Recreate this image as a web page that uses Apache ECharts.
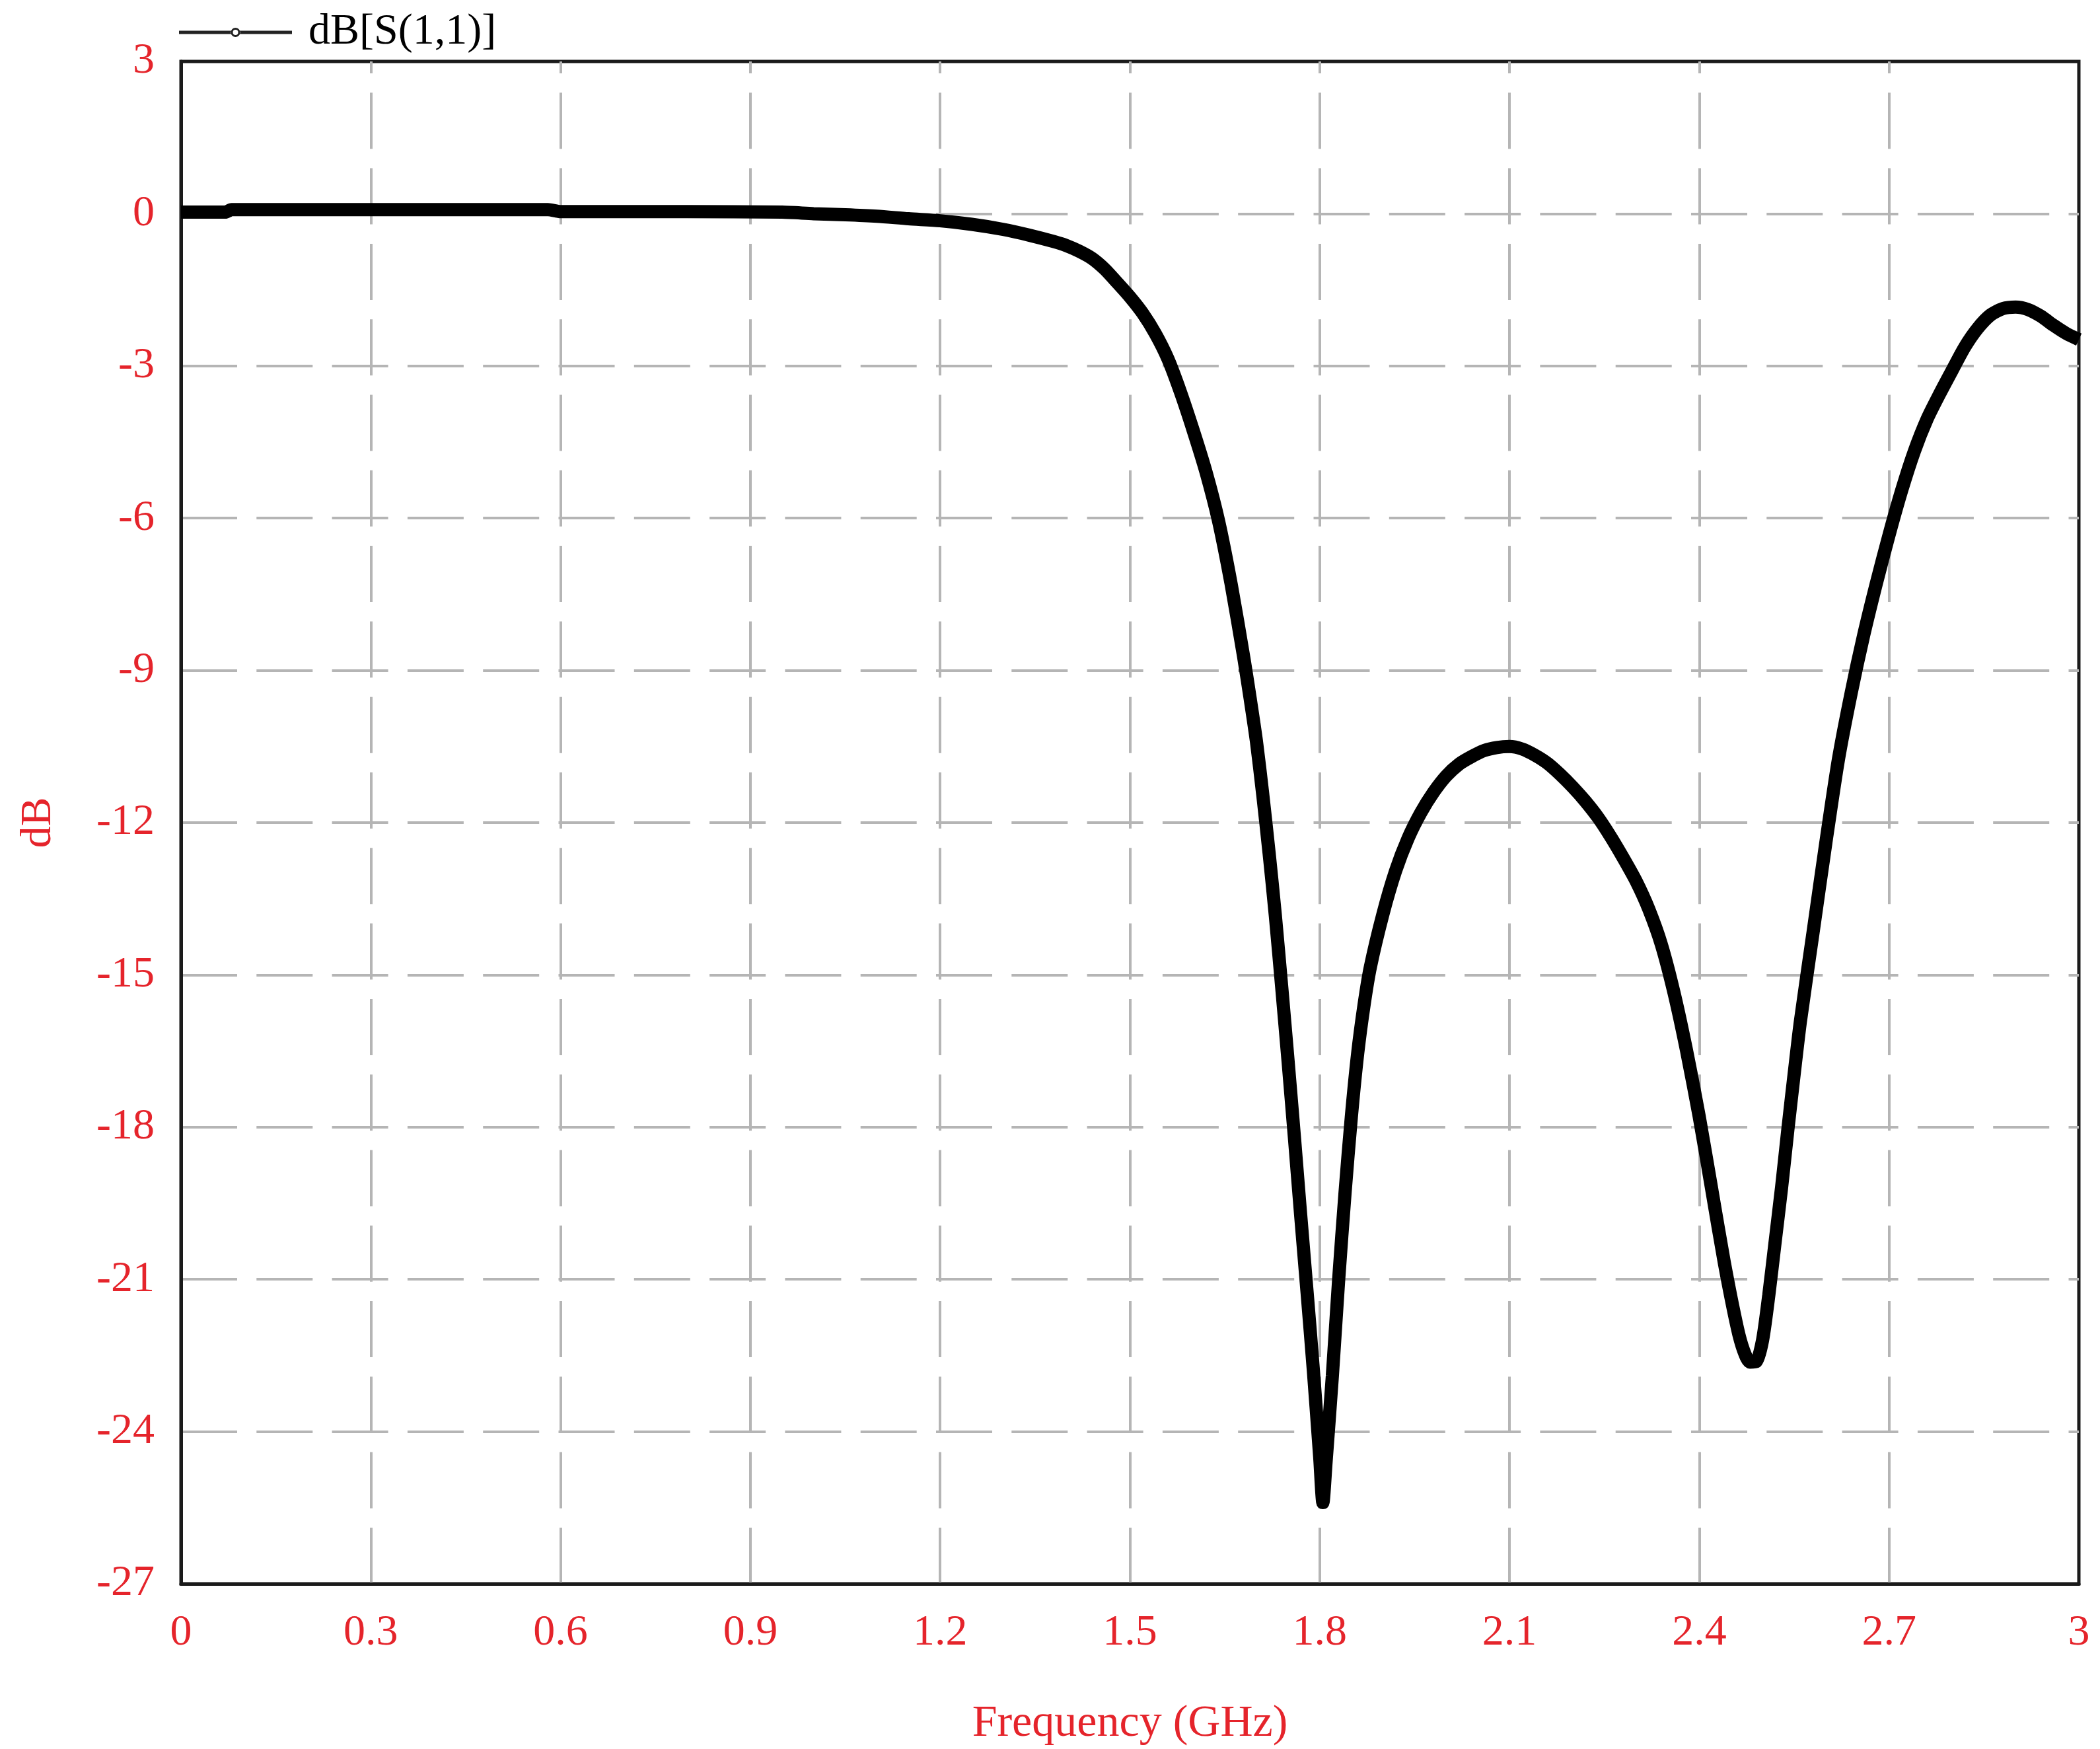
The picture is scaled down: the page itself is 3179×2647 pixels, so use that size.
<!DOCTYPE html>
<html>
<head>
<meta charset="utf-8">
<script src="https://cdn.jsdelivr.net/npm/echarts@6/dist/echarts.min.js"></script>
<style>
  html, body { margin: 0; padding: 0; background: #fff; }
  #chart { width: 3179px; height: 2647px; }
</style>
</head>
<body>
<div id="chart"></div>
<script>
// frequency in GHz
const freq = [
  0.00, 0.05, 0.07, 0.08, 0.20, 0.40, 0.58, 0.60, 0.80, 0.95,
  1.00, 1.05, 1.10, 1.15, 1.20, 1.25, 1.30, 1.34, 1.38, 1.40,
  1.42, 1.44, 1.46, 1.48, 1.50, 1.52, 1.54, 1.56, 1.58, 1.60,
  1.62, 1.64, 1.66, 1.68, 1.69, 1.70, 1.71, 1.72, 1.73, 1.74,
  1.75, 1.76, 1.77, 1.78, 1.79, 1.80, 1.805, 1.81, 1.82, 1.83,
  1.84, 1.85, 1.86, 1.87, 1.88, 1.90, 1.92, 1.94, 1.96, 1.98,
  2.00, 2.02, 2.04, 2.06, 2.08, 2.10, 2.12, 2.14, 2.16, 2.18,
  2.20, 2.22, 2.24, 2.26, 2.28, 2.30, 2.32, 2.34, 2.36, 2.38,
  2.40, 2.42, 2.44, 2.46, 2.47, 2.48, 2.49, 2.50, 2.51, 2.52,
  2.53, 2.54, 2.55, 2.56, 2.58, 2.60, 2.62, 2.64, 2.66, 2.68,
  2.70, 2.72, 2.74, 2.76, 2.78, 2.80, 2.82, 2.84, 2.86, 2.88,
  2.90, 2.92, 2.94, 2.96, 2.98, 3.00
];

// dB[S(1,1)]
const s11 = [
  0.03, 0.03, 0.03, 0.08, 0.08, 0.08, 0.08, 0.04, 0.04, 0.03,
  0.00, -0.02, -0.05, -0.10, -0.14, -0.21, -0.31, -0.42, -0.55, -0.63,
  -0.74, -0.88, -1.09, -1.36, -1.64, -1.96, -2.36, -2.86, -3.52, -4.27,
  -5.08, -6.05, -7.30, -8.75, -9.55, -10.4, -11.45, -12.6, -13.85, -15.25,
  -16.7, -18.2, -19.75, -21.25, -22.8, -24.5, -25.4, -24.6, -22.9, -21.0,
  -19.3, -17.8, -16.55, -15.6, -14.85, -13.8, -12.95, -12.3, -11.8, -11.4,
  -11.08, -10.85, -10.7, -10.58, -10.52, -10.5, -10.55, -10.67, -10.83, -11.05,
  -11.3, -11.58, -11.9, -12.28, -12.7, -13.15, -13.7, -14.4, -15.35, -16.5,
  -17.8, -19.25, -20.7, -21.95, -22.4, -22.63, -22.62, -22.2, -21.3, -20.25,
  -19.2, -18.05, -16.95, -15.9, -14.15, -12.4, -10.75, -9.45, -8.3, -7.28,
  -6.33, -5.45, -4.68, -4.05, -3.55, -3.08, -2.62, -2.26, -2.0, -1.87,
  -1.84, -1.89, -2.02, -2.2, -2.36, -2.48
];

const seriesName = 'dB[S(1,1)]';
const xTitle = 'Frequency (GHz)';
const yTitle = 'dB';

const red = '#e5242b';
const serif = '"Liberation Serif", "Times New Roman", serif';

const myChart = echarts.init(document.getElementById('chart'), null, { renderer: 'canvas' });

const gridDash = { color: '#b5b5b5', width: 4, type: [85, 29.3] };

// legend glyph: line broken by a small open circle
const legendIcon = 'path://M0,4.5 L79,4.5 L79,9.5 L0,9.5 Z M92,4.5 L171,4.5 L171,9.5 L92,9.5 Z ' +
  'M92.5,7 A7,7 0 1 0 78.5,7 A7,7 0 1 0 92.5,7 Z M89.5,7 A4,4 0 1 1 81.5,7 A4,4 0 1 1 89.5,7 Z';

const option = {
  backgroundColor: '#fff',
  animation: false,
  legend: {
    data: [{ name: seriesName, icon: legendIcon }],
    left: 271,
    top: 16,
    padding: 0,
    itemWidth: 171,
    itemHeight: 14,
    itemStyle: { color: '#222', borderWidth: 0 },
    textStyle: {
      fontFamily: serif,
      fontSize: 66,
      color: '#000',
      padding: [0, 0, 0, 20]
    }
  },
  grid: {
    left: 274,
    right: 32,
    top: 93,
    bottom: 250,
    show: true,
    borderColor: '#1a1a1a',
    borderWidth: 5,
    backgroundColor: 'transparent',
    outerBoundsMode: 'none'
  },
  xAxis: {
    type: 'value',
    min: 0,
    max: 3,
    interval: 0.3,
    name: xTitle,
    nameLocation: 'middle',
    nameGap: 178,
    nameTextStyle: { fontFamily: serif, fontSize: 68, color: red },
    axisLine: { show: true, onZero: false, lineStyle: { color: '#1a1a1a', width: 5 } },
    axisTick: { show: false },
    axisLabel: { fontFamily: serif, fontSize: 66, color: red, margin: 42 },
    splitLine: {
      show: true,
      showMinLine: false,
      showMaxLine: false,
      lineStyle: Object.assign({ dashOffset: 67 }, gridDash)
    }
  },
  yAxis: {
    type: 'value',
    min: -27,
    max: 3,
    interval: 3,
    name: yTitle,
    nameLocation: 'middle',
    nameGap: 182,
    nameTextStyle: { fontFamily: serif, fontSize: 66, color: red },
    axisLine: { show: true, onZero: false, lineStyle: { color: '#1a1a1a', width: 5 } },
    axisTick: { show: false },
    axisLabel: { fontFamily: serif, fontSize: 66, color: red, margin: 40 },
    splitLine: {
      show: true,
      showMinLine: false,
      showMaxLine: false,
      lineStyle: gridDash
    }
  },
  series: [
    {
      name: seriesName,
      type: 'line',
      data: freq.map((f, i) => [f, s11[i]]),
      smooth: 0.25,
      showSymbol: false,
      lineStyle: { color: '#000', width: 20 },
      itemStyle: { color: '#000' },
      emphasis: { disabled: true }
    }
  ]
};

myChart.setOption(option);

window.addEventListener('resize', () => myChart.resize());
</script>
</body>
</html>
